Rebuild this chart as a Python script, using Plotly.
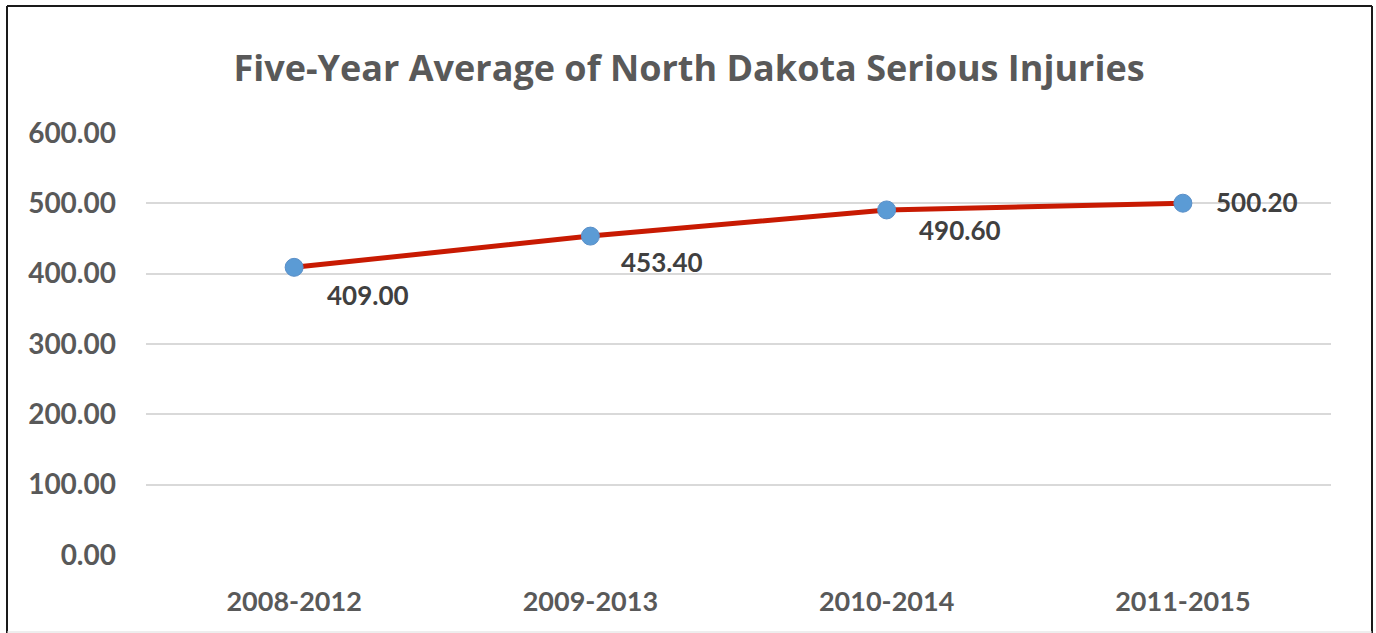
import plotly.graph_objects as go

categories = ["2008-2012", "2009-2013", "2010-2014", "2011-2015"]
values = [409.00, 453.40, 490.60, 500.20]
label_texts = ["409.00", "453.40", "490.60", "500.20"]
y_ticks = [0, 100, 200, 300, 400, 500, 600]
y_tick_labels = ["0.00", "100.00", "200.00", "300.00", "400.00", "500.00", "600.00"]

label_offsets = [(31, -28), (29, -26), (30, -20), (31, 1)]

FONT = "Lato, Carlito, Calibri, sans-serif"
TFONT = "Open Sans, sans-serif"

fig = go.Figure()
fig.add_trace(go.Scatter(
    x=categories, y=values, mode="lines+markers",
    line=dict(color="#C81A02", width=5),
    marker=dict(size=18, color="#5B9BD5", line=dict(color="#5A8FC8", width=1)),
    hoverinfo="skip", showlegend=False,
))

for c, v, t, (dx, dy) in zip(categories, values, label_texts, label_offsets):
    fig.add_annotation(x=c, y=v, text=t, showarrow=False, xanchor="left", yanchor="middle",
                       xshift=dx, yshift=dy,
                       font=dict(family=FONT, size=26, color="#404040", weight="bold"))

W, H = 1376, 633
L, R, T, B = 146, 45, 133, 78
pw, ph = W - L - R, H - T - B

def px(x):
    return (x - L) / pw

def py(y):
    return (H - B - y) / ph

border = "#1a1a1a"
shapes = [
    dict(type="line", xref="paper", yref="paper", x0=px(7), x1=px(7), y0=py(6), y1=py(640), line=dict(color=border, width=2)),
    dict(type="line", xref="paper", yref="paper", x0=px(7), x1=px(1372), y0=py(6), y1=py(6), line=dict(color=border, width=2)),
    dict(type="line", xref="paper", yref="paper", x0=px(1372), x1=px(1372), y0=py(6), y1=py(640), line=dict(color=border, width=2)),
    dict(type="line", xref="paper", yref="paper", x0=px(7), x1=px(1372), y0=py(632), y1=py(632), line=dict(color="#dddddd", width=1)),
]

fig.update_layout(
    width=W, height=H,
    margin=dict(l=L, r=R, t=T, b=B),
    paper_bgcolor="white", plot_bgcolor="white",
    title=dict(text="Five-Year Average of North Dakota Serious Injuries",
               x=(233 + 1145) / 2 / W, xanchor="center", y=1 - 68 / H, yanchor="middle",
               font=dict(family=TFONT, size=36, color="#595959", weight="bold")),
    xaxis=dict(type="category", range=[-0.5, 3.5], showgrid=False, showline=False, zeroline=False,
               ticks="", ticklabelstandoff=28,
               tickfont=dict(family=FONT, size=27, color="#595959", weight="bold")),
    yaxis=dict(range=[0, 600], tickvals=y_ticks, ticktext=y_tick_labels, showgrid=True,
               gridcolor="#D9D9D9", gridwidth=1.5, zeroline=False, showline=False,
               ticks="", ticklabelstandoff=29,
               tickfont=dict(family=FONT, size=28, color="#595959", weight="bold")),
    shapes=shapes,
)

fig.write_html("out.html", config={"displayModeBar": False},
               post_script="document.body.style.margin='0';document.body.style.overflow='hidden';")
